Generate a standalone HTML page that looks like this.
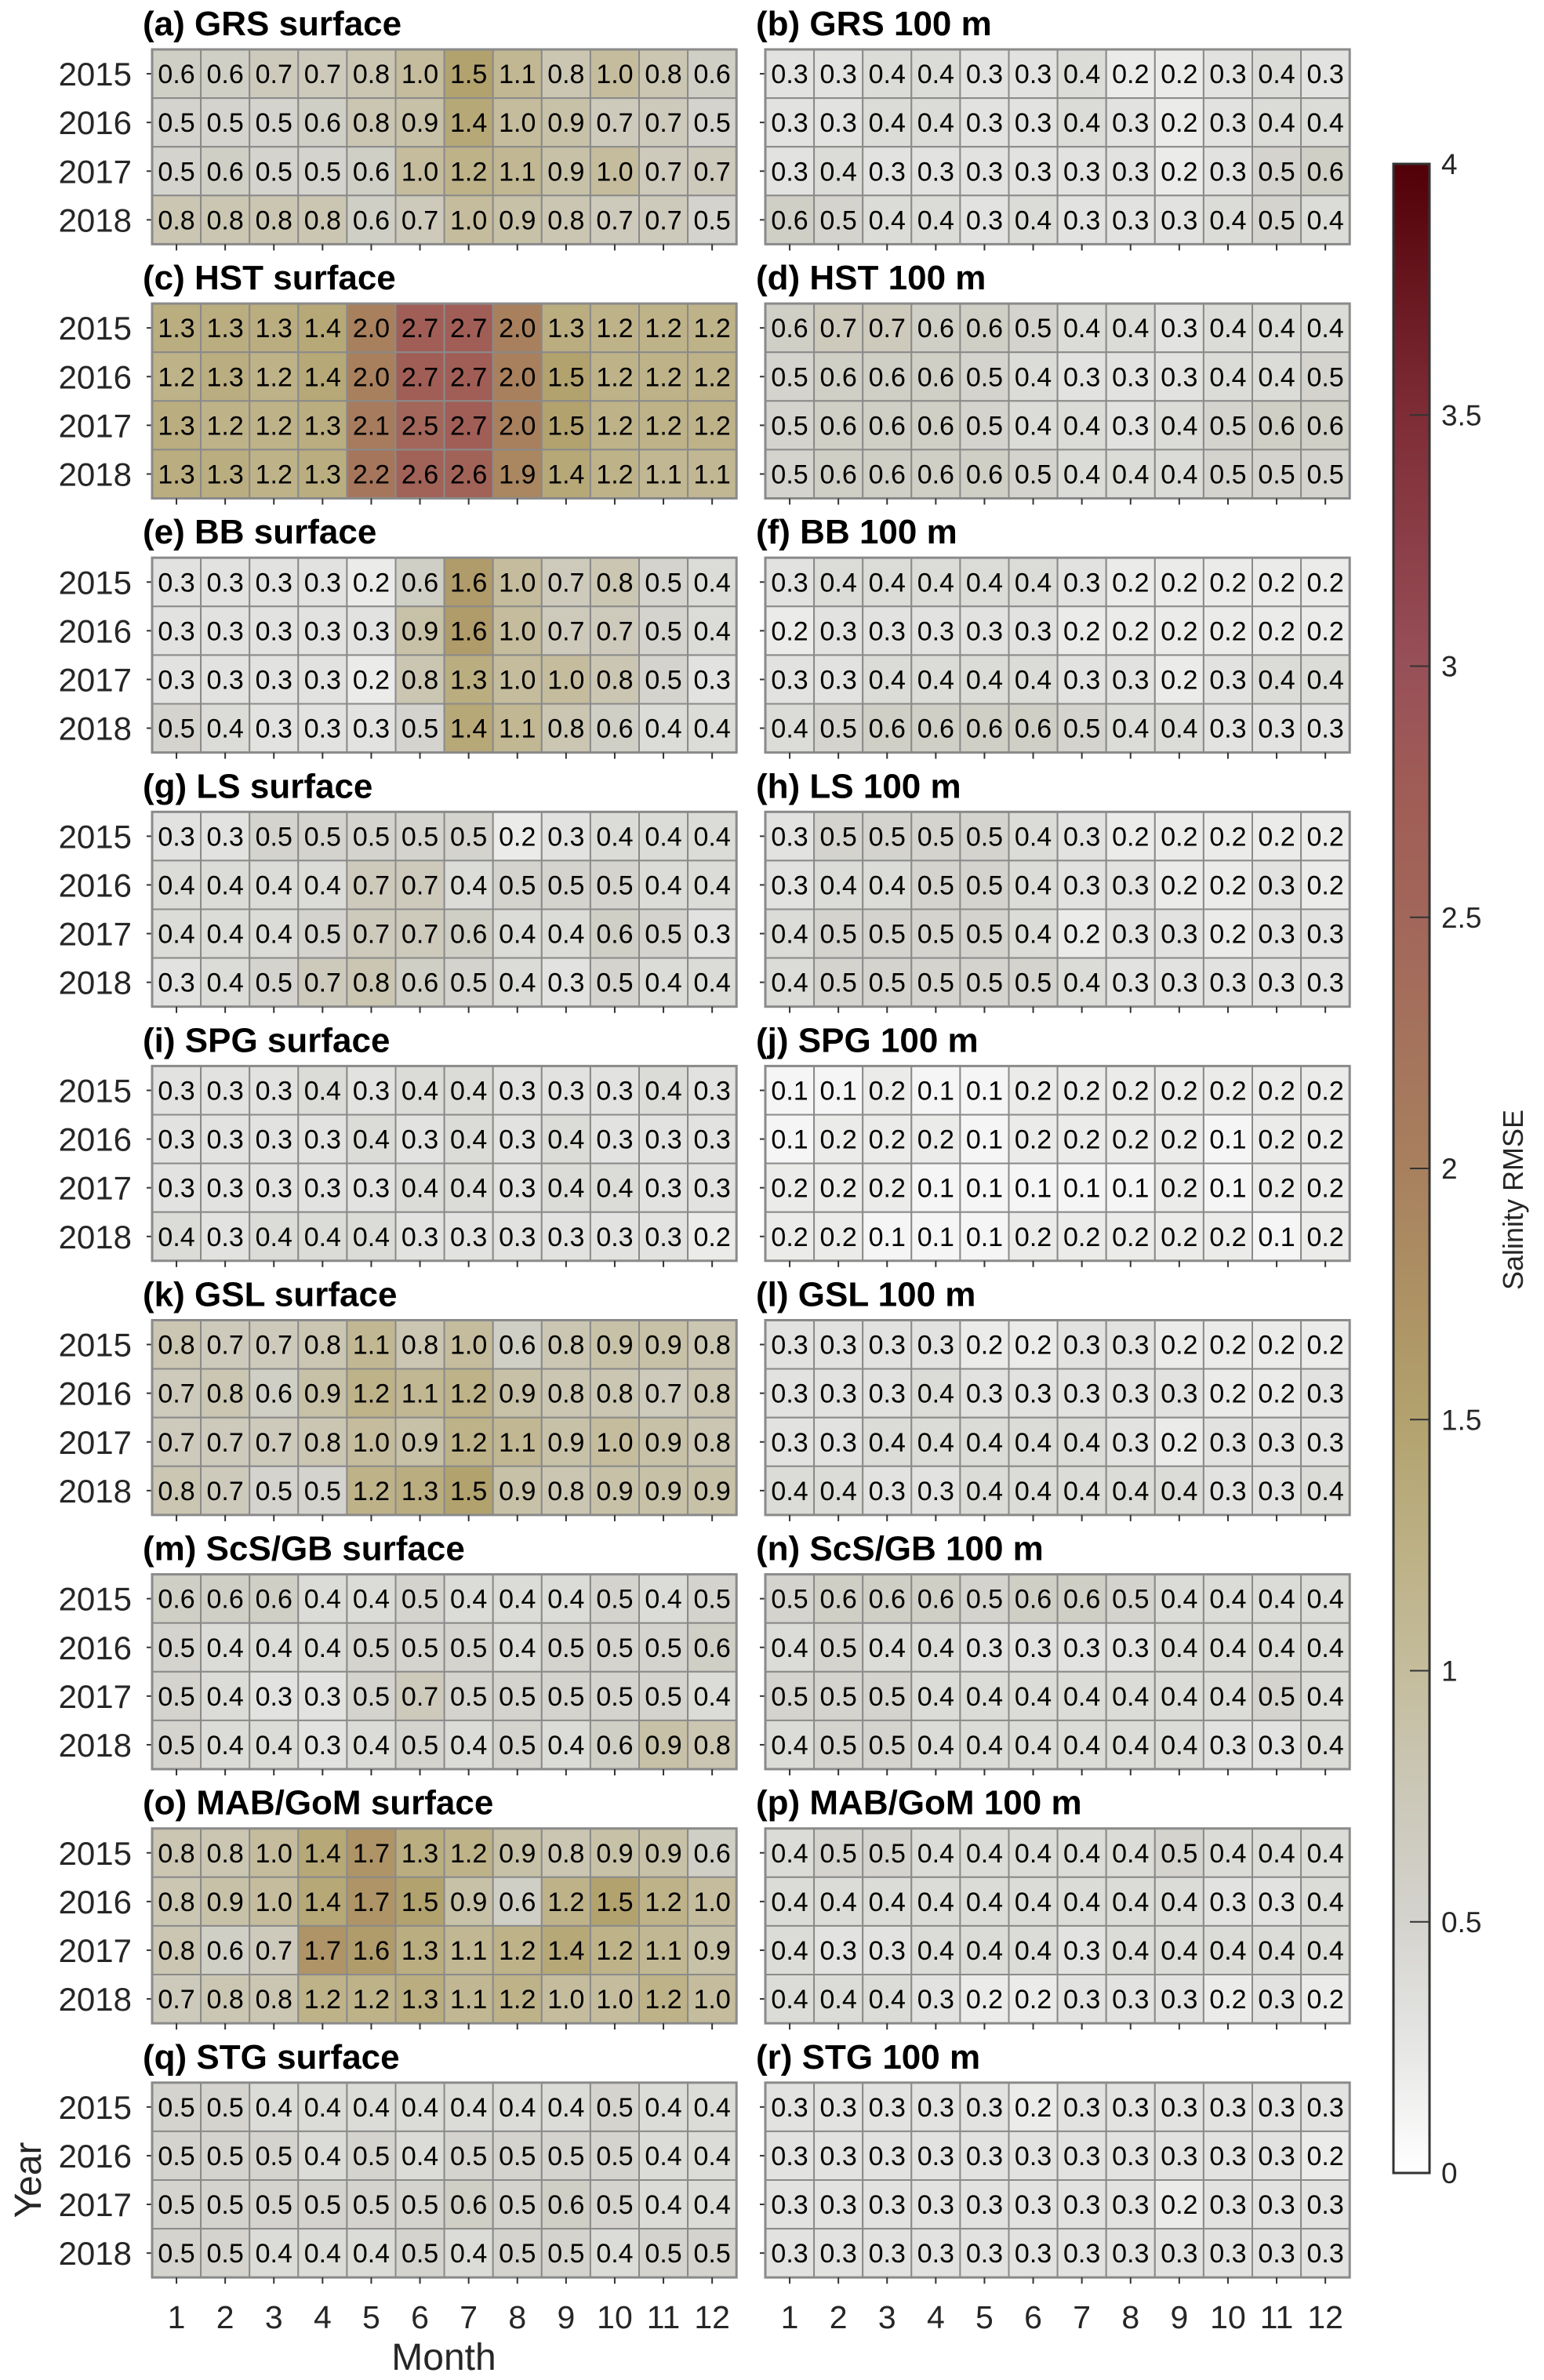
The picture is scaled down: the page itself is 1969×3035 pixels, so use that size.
<!DOCTYPE html>
<html><head><meta charset="utf-8"><style>
html,body{margin:0;padding:0;background:#fff}
svg{display:block}
text{font-family:"Liberation Sans",Arial,sans-serif}
</style></head><body>
<svg id="fig" width="1969" height="3035" viewBox="0 0 1969 3035" xmlns="http://www.w3.org/2000/svg">
<defs><linearGradient id="cbgrad" x1="0" y1="1" x2="0" y2="0"></linearGradient></defs>
</svg>
<script>
const years = [2015, 2016, 2017, 2018];
const months = [1,2,3,4,5,6,7,8,9,10,11,12];
const titles = ["(a) GRS surface","(b) GRS 100 m","(c) HST surface","(d) HST 100 m","(e) BB surface","(f) BB 100 m","(g) LS surface","(h) LS 100 m","(i) SPG surface","(j) SPG 100 m","(k) GSL surface","(l) GSL 100 m","(m) ScS/GB surface","(n) ScS/GB 100 m","(o) MAB/GoM surface","(p) MAB/GoM 100 m","(q) STG surface","(r) STG 100 m"];
const cbTicks = [0,0.5,1,1.5,2,2.5,3,3.5,4];
const cbTickLabels = ["0","0.5","1","1.5","2","2.5","3","3.5","4"];
const dA=[[0.6,0.6,0.7,0.7,0.8,1.0,1.5,1.1,0.8,1.0,0.8,0.6],[0.5,0.5,0.5,0.6,0.8,0.9,1.4,1.0,0.9,0.7,0.7,0.5],[0.5,0.6,0.5,0.5,0.6,1.0,1.2,1.1,0.9,1.0,0.7,0.7],[0.8,0.8,0.8,0.8,0.6,0.7,1.0,0.9,0.8,0.7,0.7,0.5]];
const dB=[[0.3,0.3,0.4,0.4,0.3,0.3,0.4,0.2,0.2,0.3,0.4,0.3],[0.3,0.3,0.4,0.4,0.3,0.3,0.4,0.3,0.2,0.3,0.4,0.4],[0.3,0.4,0.3,0.3,0.3,0.3,0.3,0.3,0.2,0.3,0.5,0.6],[0.6,0.5,0.4,0.4,0.3,0.4,0.3,0.3,0.3,0.4,0.5,0.4]];
const dC=[[1.3,1.3,1.3,1.4,2.0,2.7,2.7,2.0,1.3,1.2,1.2,1.2],[1.2,1.3,1.2,1.4,2.0,2.7,2.7,2.0,1.5,1.2,1.2,1.2],[1.3,1.2,1.2,1.3,2.1,2.5,2.7,2.0,1.5,1.2,1.2,1.2],[1.3,1.3,1.2,1.3,2.2,2.6,2.6,1.9,1.4,1.2,1.1,1.1]];
const dD=[[0.6,0.7,0.7,0.6,0.6,0.5,0.4,0.4,0.3,0.4,0.4,0.4],[0.5,0.6,0.6,0.6,0.5,0.4,0.3,0.3,0.3,0.4,0.4,0.5],[0.5,0.6,0.6,0.6,0.5,0.4,0.4,0.3,0.4,0.5,0.6,0.6],[0.5,0.6,0.6,0.6,0.6,0.5,0.4,0.4,0.4,0.5,0.5,0.5]];
const dE=[[0.3,0.3,0.3,0.3,0.2,0.6,1.6,1.0,0.7,0.8,0.5,0.4],[0.3,0.3,0.3,0.3,0.3,0.9,1.6,1.0,0.7,0.7,0.5,0.4],[0.3,0.3,0.3,0.3,0.2,0.8,1.3,1.0,1.0,0.8,0.5,0.3],[0.5,0.4,0.3,0.3,0.3,0.5,1.4,1.1,0.8,0.6,0.4,0.4]];
const dF=[[0.3,0.4,0.4,0.4,0.4,0.4,0.3,0.2,0.2,0.2,0.2,0.2],[0.2,0.3,0.3,0.3,0.3,0.3,0.2,0.2,0.2,0.2,0.2,0.2],[0.3,0.3,0.4,0.4,0.4,0.4,0.3,0.3,0.2,0.3,0.4,0.4],[0.4,0.5,0.6,0.6,0.6,0.6,0.5,0.4,0.4,0.3,0.3,0.3]];
const dG=[[0.3,0.3,0.5,0.5,0.5,0.5,0.5,0.2,0.3,0.4,0.4,0.4],[0.4,0.4,0.4,0.4,0.7,0.7,0.4,0.5,0.5,0.5,0.4,0.4],[0.4,0.4,0.4,0.5,0.7,0.7,0.6,0.4,0.4,0.6,0.5,0.3],[0.3,0.4,0.5,0.7,0.8,0.6,0.5,0.4,0.3,0.5,0.4,0.4]];
const dH=[[0.3,0.5,0.5,0.5,0.5,0.4,0.3,0.2,0.2,0.2,0.2,0.2],[0.3,0.4,0.4,0.5,0.5,0.4,0.3,0.3,0.2,0.2,0.3,0.2],[0.4,0.5,0.5,0.5,0.5,0.4,0.2,0.3,0.3,0.2,0.3,0.3],[0.4,0.5,0.5,0.5,0.5,0.5,0.4,0.3,0.3,0.3,0.3,0.3]];
const dI=[[0.3,0.3,0.3,0.4,0.3,0.4,0.4,0.3,0.3,0.3,0.4,0.3],[0.3,0.3,0.3,0.3,0.4,0.3,0.4,0.3,0.4,0.3,0.3,0.3],[0.3,0.3,0.3,0.3,0.3,0.4,0.4,0.3,0.4,0.4,0.3,0.3],[0.4,0.3,0.4,0.4,0.4,0.3,0.3,0.3,0.3,0.3,0.3,0.2]];
const dJ=[[0.1,0.1,0.2,0.1,0.1,0.2,0.2,0.2,0.2,0.2,0.2,0.2],[0.1,0.2,0.2,0.2,0.1,0.2,0.2,0.2,0.2,0.1,0.2,0.2],[0.2,0.2,0.2,0.1,0.1,0.1,0.1,0.1,0.2,0.1,0.2,0.2],[0.2,0.2,0.1,0.1,0.1,0.2,0.2,0.2,0.2,0.2,0.1,0.2]];
const dK=[[0.8,0.7,0.7,0.8,1.1,0.8,1.0,0.6,0.8,0.9,0.9,0.8],[0.7,0.8,0.6,0.9,1.2,1.1,1.2,0.9,0.8,0.8,0.7,0.8],[0.7,0.7,0.7,0.8,1.0,0.9,1.2,1.1,0.9,1.0,0.9,0.8],[0.8,0.7,0.5,0.5,1.2,1.3,1.5,0.9,0.8,0.9,0.9,0.9]];
const dL=[[0.3,0.3,0.3,0.3,0.2,0.2,0.3,0.3,0.2,0.2,0.2,0.2],[0.3,0.3,0.3,0.4,0.3,0.3,0.3,0.3,0.3,0.2,0.2,0.3],[0.3,0.3,0.4,0.4,0.4,0.4,0.4,0.3,0.2,0.3,0.3,0.3],[0.4,0.4,0.3,0.3,0.4,0.4,0.4,0.4,0.4,0.3,0.3,0.4]];
const dM=[[0.6,0.6,0.6,0.4,0.4,0.5,0.4,0.4,0.4,0.5,0.4,0.5],[0.5,0.4,0.4,0.4,0.5,0.5,0.5,0.4,0.5,0.5,0.5,0.6],[0.5,0.4,0.3,0.3,0.5,0.7,0.5,0.5,0.5,0.5,0.5,0.4],[0.5,0.4,0.4,0.3,0.4,0.5,0.4,0.5,0.4,0.6,0.9,0.8]];
const dN=[[0.5,0.6,0.6,0.6,0.5,0.6,0.6,0.5,0.4,0.4,0.4,0.4],[0.4,0.5,0.4,0.4,0.3,0.3,0.3,0.3,0.4,0.4,0.4,0.4],[0.5,0.5,0.5,0.4,0.4,0.4,0.4,0.4,0.4,0.4,0.5,0.4],[0.4,0.5,0.5,0.4,0.4,0.4,0.4,0.4,0.4,0.3,0.3,0.4]];
const dO=[[0.8,0.8,1.0,1.4,1.7,1.3,1.2,0.9,0.8,0.9,0.9,0.6],[0.8,0.9,1.0,1.4,1.7,1.5,0.9,0.6,1.2,1.5,1.2,1.0],[0.8,0.6,0.7,1.7,1.6,1.3,1.1,1.2,1.4,1.2,1.1,0.9],[0.7,0.8,0.8,1.2,1.2,1.3,1.1,1.2,1.0,1.0,1.2,1.0]];
const dP=[[0.4,0.5,0.5,0.4,0.4,0.4,0.4,0.4,0.5,0.4,0.4,0.4],[0.4,0.4,0.4,0.4,0.4,0.4,0.4,0.4,0.4,0.3,0.3,0.4],[0.4,0.3,0.3,0.4,0.4,0.4,0.3,0.4,0.4,0.4,0.4,0.4],[0.4,0.4,0.4,0.3,0.2,0.2,0.3,0.3,0.3,0.2,0.3,0.2]];
const dQ=[[0.5,0.5,0.4,0.4,0.4,0.4,0.4,0.4,0.4,0.5,0.4,0.4],[0.5,0.5,0.5,0.4,0.5,0.4,0.5,0.5,0.5,0.5,0.4,0.4],[0.5,0.5,0.5,0.5,0.5,0.5,0.6,0.5,0.6,0.5,0.4,0.4],[0.5,0.5,0.4,0.4,0.4,0.5,0.4,0.5,0.5,0.4,0.5,0.5]];
const dR=[[0.3,0.3,0.3,0.3,0.3,0.2,0.3,0.3,0.3,0.3,0.3,0.3],[0.3,0.3,0.3,0.3,0.3,0.3,0.3,0.3,0.3,0.3,0.3,0.2],[0.3,0.3,0.3,0.3,0.3,0.3,0.3,0.3,0.2,0.3,0.3,0.3],[0.3,0.3,0.3,0.3,0.3,0.3,0.3,0.3,0.3,0.3,0.3,0.3]];
const panels=[dA,dB,dC,dD,dE,dF,dG,dH,dI,dJ,dK,dL,dM,dN,dO,dP,dQ,dR];

const cmapV=[0,0.25,0.5,0.75,1.0,1.25,1.5,1.75,2.0,2.5,2.75,3.0,3.5,4.0];
const cmapC=["#ffffff","#e6e6e5","#d4d3ce","#cbc8b8","#c4bc9c","#bcb084","#b2a26e","#ad9164","#a8805e","#a2665a","#a05c56","#985058","#7e2c36","#520008"];
function hex(c){return [1,3,5].map(i=>parseInt(c.substr(i,2),16));}
function cmap(v){
  v=Math.max(0,Math.min(4,v));
  for(let i=0;i<cmapV.length-1;i++){
    if(v<=cmapV[i+1]){const t=(v-cmapV[i])/(cmapV[i+1]-cmapV[i]);const a=hex(cmapC[i]),b=hex(cmapC[i+1]);
      return "rgb("+a.map((x,k)=>Math.round(x+(b[k]-x)*t)).join(",")+")";}
  }
  return cmapC[cmapC.length-1];
}
const NS="http://www.w3.org/2000/svg";
const svg=document.getElementById("fig");
function mk(tag,attrs,parent){const e=document.createElementNS(NS,tag);for(const k in attrs)e.setAttribute(k,attrs[k]);(parent||svg).appendChild(e);return e;}

const cell=62.1, colX=[194,976], top0=63, panelStep=324.1;
function xPos(col,m){return colX[col]+(m-1)*cell;}
function yPos(p,r){return top0+Math.floor(p/2)*panelStep+r*cell;}

panels.forEach((data,p)=>{
  const col=p%2;
  const g=mk("g",{});
  
  
  const x0=xPos(col,1), y0=yPos(p,0);
  const t=mk("text",{x:x0-12,y:y0-18,"font-size":"44","font-weight":"bold",fill:"#000"},g);
  t.textContent=titles[p];
  
  
  data.forEach((row,r)=>{
    row.forEach((v,m)=>{
      const rc=mk("rect",{x:xPos(col,m+1),y:yPos(p,r),width:cell,height:cell,fill:cmap(v),stroke:"#8a8a8a","stroke-width":"2"},g);
      
      
      const tx=mk("text",{x:xPos(col,m+1)+cell/2,y:yPos(p,r)+cell/2+12,"font-size":"34","text-anchor":"middle",fill:"#000"},g);
      tx.textContent=v.toFixed(1);
      
      
    });
    mk("line",{x1:x0-7,x2:x0,y1:yPos(p,r)+cell/2,y2:yPos(p,r)+cell/2,stroke:"#333","stroke-width":"2"},g);
    if(col===0){
      const yl=mk("text",{x:x0-26,y:yPos(p,r)+cell/2+15,"font-size":"42","text-anchor":"end",fill:"#262626"},g);
      yl.textContent=years[r];
      
      
    }
  });
  mk("rect",{x:x0,y:y0,width:cell*12,height:cell*4,fill:"none",stroke:"#8a8a8a","stroke-width":"3"},g);
  months.forEach(m=>{
    const cx=xPos(col,m)+cell/2, yb=yPos(p,4);
    mk("line",{x1:cx,x2:cx,y1:yb,y2:yb+8,stroke:"#333","stroke-width":"2"},g);
    if(p>=16){
      const ml=mk("text",{x:cx,y:yb+65,"font-size":"41","text-anchor":"middle",fill:"#262626"},g);
      ml.textContent=m;
      
      
    }
  });
});

const mt=mk("text",{x:566,y:3022,"font-size":"48","text-anchor":"middle",fill:"#262626"});
mt.textContent="Month";


const yt=mk("text",{x:0,y:0,"font-size":"48","text-anchor":"middle",fill:"#262626",transform:"translate(52,2780) rotate(-90)"});
yt.textContent="Year";



const grad=document.getElementById("cbgrad");
cmapV.forEach((v,i)=>{mk("stop",{offset:(v/4),"stop-color":cmapC[i]},grad);});
const cbX=1777,cbW=46,cbTop=209,cbBot=2771;
function cbY(v){return cbBot-(v/4)*(cbBot-cbTop);}
const cb=mk("rect",{x:cbX,y:cbTop,width:cbW,height:cbBot-cbTop,fill:"url(#cbgrad)",stroke:"#333","stroke-width":"3"});


cbTicks.forEach((v,i)=>{
  if(v>0&&v<4) mk("line",{x1:cbX+cbW-25,x2:cbX+cbW,y1:cbY(v),y2:cbY(v),stroke:"#333","stroke-width":"2"});
  const lt=mk("text",{x:1838,y:cbY(v)+13,"font-size":"37",fill:"#262626"});
  lt.textContent=cbTickLabels[i];
  
  
});
const ct=mk("text",{x:0,y:0,"font-size":"36","text-anchor":"middle",fill:"#262626",transform:"translate(1942,1530) rotate(-90)"});
ct.textContent="Salinity RMSE";


</script>
</body></html>
